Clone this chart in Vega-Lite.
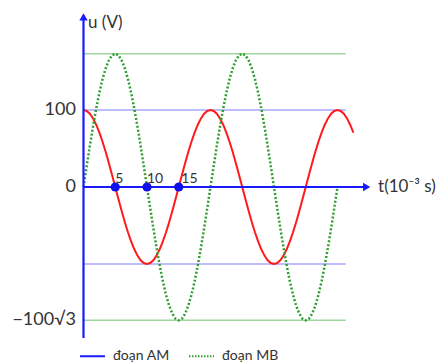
{
  "$schema": "https://vega.github.io/schema/vega-lite/v6.json",
  "width": 442,
  "height": 363,
  "autosize": "none",
  "padding": 0,
  "background": "white",
  "config": {"view": {"stroke": null}, "text": {"font": "Lato"}},
  "datasets": {
    "curve": [
      {"t": 0, "am": 100, "mb": 0}, {"t": 0.5, "am": 98.8, "mb": 27.1}, {"t": 1, "am": 95.1, "mb": 53.5}, {"t": 1.5, "am": 89.1, "mb": 78.6},
      {"t": 2, "am": 80.9, "mb": 101.8}, {"t": 2.5, "am": 70.7, "mb": 122.5}, {"t": 3, "am": 58.8, "mb": 140.1}, {"t": 3.5, "am": 45.4, "mb": 154.3},
      {"t": 4, "am": 30.9, "mb": 164.7}, {"t": 4.5, "am": 15.6, "mb": 171.1}, {"t": 5, "am": 0, "mb": 173.2}, {"t": 5.5, "am": -15.6, "mb": 171.1},
      {"t": 6, "am": -30.9, "mb": 164.7}, {"t": 6.5, "am": -45.4, "mb": 154.3}, {"t": 7, "am": -58.8, "mb": 140.1}, {"t": 7.5, "am": -70.7, "mb": 122.5},
      {"t": 8, "am": -80.9, "mb": 101.8}, {"t": 8.5, "am": -89.1, "mb": 78.6}, {"t": 9, "am": -95.1, "mb": 53.5}, {"t": 9.5, "am": -98.8, "mb": 27.1},
      {"t": 10, "am": -100, "mb": 0}, {"t": 10.5, "am": -98.8, "mb": -27.1}, {"t": 11, "am": -95.1, "mb": -53.5}, {"t": 11.5, "am": -89.1, "mb": -78.6},
      {"t": 12, "am": -80.9, "mb": -101.8}, {"t": 12.5, "am": -70.7, "mb": -122.5}, {"t": 13, "am": -58.8, "mb": -140.1}, {"t": 13.5, "am": -45.4, "mb": -154.3},
      {"t": 14, "am": -30.9, "mb": -164.7}, {"t": 14.5, "am": -15.6, "mb": -171.1}, {"t": 15, "am": 0, "mb": -173.2}, {"t": 15.5, "am": 15.6, "mb": -171.1},
      {"t": 16, "am": 30.9, "mb": -164.7}, {"t": 16.5, "am": 45.4, "mb": -154.3}, {"t": 17, "am": 58.8, "mb": -140.1}, {"t": 17.5, "am": 70.7, "mb": -122.5},
      {"t": 18, "am": 80.9, "mb": -101.8}, {"t": 18.5, "am": 89.1, "mb": -78.6}, {"t": 19, "am": 95.1, "mb": -53.5}, {"t": 19.5, "am": 98.8, "mb": -27.1},
      {"t": 20, "am": 100, "mb": 0}, {"t": 20.5, "am": 98.8, "mb": 27.1}, {"t": 21, "am": 95.1, "mb": 53.5}, {"t": 21.5, "am": 89.1, "mb": 78.6},
      {"t": 22, "am": 80.9, "mb": 101.8}, {"t": 22.5, "am": 70.7, "mb": 122.5}, {"t": 23, "am": 58.8, "mb": 140.1}, {"t": 23.5, "am": 45.4, "mb": 154.3},
      {"t": 24, "am": 30.9, "mb": 164.7}, {"t": 24.5, "am": 15.6, "mb": 171.1}, {"t": 25, "am": 0, "mb": 173.2}, {"t": 25.5, "am": -15.6, "mb": 171.1},
      {"t": 26, "am": -30.9, "mb": 164.7}, {"t": 26.5, "am": -45.4, "mb": 154.3}, {"t": 27, "am": -58.8, "mb": 140.1}, {"t": 27.5, "am": -70.7, "mb": 122.5},
      {"t": 28, "am": -80.9, "mb": 101.8}, {"t": 28.5, "am": -89.1, "mb": 78.6}, {"t": 29, "am": -95.1, "mb": 53.5}, {"t": 29.5, "am": -98.8, "mb": 27.1},
      {"t": 30, "am": -100, "mb": 0}, {"t": 30.5, "am": -98.8, "mb": -27.1}, {"t": 31, "am": -95.1, "mb": -53.5}, {"t": 31.5, "am": -89.1, "mb": -78.6},
      {"t": 32, "am": -80.9, "mb": -101.8}, {"t": 32.5, "am": -70.7, "mb": -122.5}, {"t": 33, "am": -58.8, "mb": -140.1}, {"t": 33.5, "am": -45.4, "mb": -154.3},
      {"t": 34, "am": -30.9, "mb": -164.7}, {"t": 34.5, "am": -15.6, "mb": -171.1}, {"t": 35, "am": 0, "mb": -173.2}, {"t": 35.5, "am": 15.6, "mb": -171.1},
      {"t": 36, "am": 30.9, "mb": -164.7}, {"t": 36.5, "am": 45.4, "mb": -154.3}, {"t": 37, "am": 58.8, "mb": -140.1}, {"t": 37.5, "am": 70.7, "mb": -122.5},
      {"t": 38, "am": 80.9, "mb": -101.8}, {"t": 38.5, "am": 89.1, "mb": -78.6}, {"t": 39, "am": 95.1, "mb": -53.5}, {"t": 39.5, "am": 98.8, "mb": -27.1},
      {"t": 40, "am": 100, "mb": 0}, {"t": 40.5, "am": 98.8}, {"t": 41, "am": 95.1}, {"t": 41.5, "am": 89.1},
      {"t": 42, "am": 80.9}, {"t": 42.5, "am": 70.7}
    ]
  },
  "layer": [
    {
      "data": {"values": [{"t": 0, "t2": 41.3, "v": 100}, {"t": 0, "t2": 41.3, "v": -100}]},
      "mark": {"type": "rule", "color": "#a9a9ff", "strokeWidth": 1.5},
      "encoding": {
        "x": {"field": "t", "type": "quantitative", "scale": {"domain": [-13.15, 56.46], "nice": false, "zero": false}, "axis": null},
        "x2": {"field": "t2"},
        "y": {"field": "v", "type": "quantitative", "scale": {"domain": [-228.6, 242.9], "nice": false, "zero": false}, "axis": null}
      }
    },
    {
      "data": {"values": [{"t": 0, "t2": 41.3, "v": 173.2}, {"t": 0, "t2": 41.3, "v": -173.2}]},
      "mark": {"type": "rule", "color": "#9fd69f", "strokeWidth": 1.5},
      "encoding": {
        "x": {"field": "t", "type": "quantitative"},
        "x2": {"field": "t2"},
        "y": {"field": "v", "type": "quantitative"}
      }
    },
    {
      "data": {"name": "curve"},
      "mark": {"type": "line", "color": "#ff1a1a", "strokeWidth": 2},
      "encoding": {
        "x": {"field": "t", "type": "quantitative"},
        "y": {"field": "am", "type": "quantitative"}
      }
    },
    {
      "data": {"name": "curve"},
      "mark": {"type": "line", "color": "#2f9e2f", "strokeWidth": 2.5, "strokeDash": [2, 2]},
      "encoding": {
        "x": {"field": "t", "type": "quantitative"},
        "y": {"field": "mb", "type": "quantitative"}
      }
    },
    {
      "data": {"values": [{"t": 0, "v": -196, "v2": 220}]},
      "mark": {"type": "rule", "color": "#1a1aff", "strokeWidth": 2.2},
      "encoding": {
        "x": {"field": "t", "type": "quantitative"},
        "y": {"field": "v", "type": "quantitative"},
        "y2": {"field": "v2"}
      }
    },
    {
      "data": {"values": [{"t": 0, "t2": 44.3, "v": 0}]},
      "mark": {"type": "rule", "color": "#1a1aff", "strokeWidth": 2.2},
      "encoding": {
        "x": {"field": "t", "type": "quantitative"},
        "x2": {"field": "t2"},
        "y": {"field": "v", "type": "quantitative"}
      }
    },
    {
      "data": {"values": [{"t": 0, "v": 221, "dir": "up"}, {"t": 44.6, "v": 0, "dir": "right"}]},
      "mark": {"type": "point", "filled": true, "color": "#1a1aff", "opacity": 1, "size": 70},
      "encoding": {
        "x": {"field": "t", "type": "quantitative"},
        "y": {"field": "v", "type": "quantitative"},
        "shape": {"field": "dir", "type": "nominal", "scale": {"domain": ["up", "right"], "range": ["triangle-up", "triangle-right"]}, "legend": null}
      }
    },
    {
      "data": {"values": [{"t": 5, "v": 0}, {"t": 10, "v": 0}, {"t": 15, "v": 0}]},
      "mark": {"type": "circle", "color": "#1010ee", "opacity": 1, "size": 85},
      "encoding": {
        "x": {"field": "t", "type": "quantitative"},
        "y": {"field": "v", "type": "quantitative"}
      }
    },
    {
      "data": {"values": [{"t": 5, "v": 0, "label": "5"}, {"t": 10, "v": 0, "label": "10"}, {"t": 15.4, "v": 0, "label": "15"}]},
      "mark": {"type": "text", "align": "left", "baseline": "alphabetic", "dx": 0, "dy": -4, "fontSize": 14, "color": "#333333"},
      "encoding": {
        "x": {"field": "t", "type": "quantitative"},
        "y": {"field": "v", "type": "quantitative"},
        "text": {"field": "label"}
      }
    },
    {
      "data": {"values": [{"t": -1.2, "v": 100, "label": "100"}, {"t": -1.2, "v": 0, "label": "0"}, {"t": -1.2, "v": -173.2, "label": "−100√3"}]},
      "mark": {"type": "text", "align": "right", "baseline": "middle", "fontSize": 18, "color": "#333333"},
      "encoding": {
        "x": {"field": "t", "type": "quantitative"},
        "y": {"field": "v", "type": "quantitative"},
        "text": {"field": "label"}
      }
    },
    {
      "data": {"values": [{"t": 0.7, "v": 213, "label": "u (V)"}, {"t": 46.4, "v": 0, "label": "t(10⁻³ s)"}]},
      "mark": {"type": "text", "align": "left", "baseline": "middle", "fontSize": 17, "color": "#333333"},
      "encoding": {
        "x": {"field": "t", "type": "quantitative"},
        "y": {"field": "v", "type": "quantitative"},
        "text": {"field": "label"}
      }
    },
    {
      "data": {"values": [{"t": 0, "v": 0, "s": "đoạn AM"}, {"t": 0, "v": 0, "s": "đoạn MB"}]},
      "mark": {"type": "line", "strokeWidth": 2},
      "encoding": {
        "x": {"field": "t", "type": "quantitative"},
        "y": {"field": "v", "type": "quantitative"},
        "color": {"field": "s", "type": "nominal", "scale": {"domain": ["đoạn AM", "đoạn MB"], "range": ["#1a1aff", "#2f9e2f"]},
          "legend": {"orient": "none", "legendX": 79, "legendY": 342.5, "direction": "horizontal", "title": null, "symbolType": "stroke", "symbolSize": 625, "symbolStrokeWidth": 2, "labelFont": "Lato", "labelFontSize": 14, "labelColor": "#333333", "labelOffset": 7, "columnPadding": 15, "padding": 0}},
        "strokeDash": {"field": "s", "type": "nominal", "scale": {"domain": ["đoạn AM", "đoạn MB"], "range": [[1, 0], [1.5, 1.5]]},
          "legend": {"orient": "none", "legendX": 79, "legendY": 342.5, "direction": "horizontal", "title": null, "symbolType": "stroke", "symbolSize": 625, "symbolStrokeWidth": 2, "labelFont": "Lato", "labelFontSize": 14, "labelColor": "#333333", "labelOffset": 7, "columnPadding": 15, "padding": 0}}
      }
    }
  ]
}
